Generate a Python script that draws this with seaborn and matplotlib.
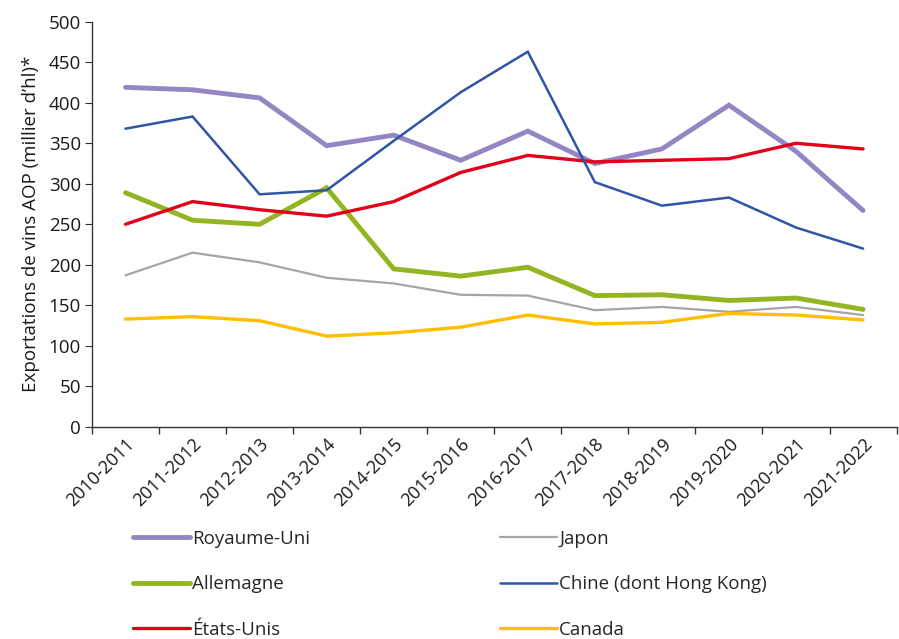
import matplotlib
matplotlib.use("Agg")
import matplotlib.pyplot as plt
import seaborn as sns
import pandas as pd
from matplotlib.ticker import FixedLocator

seasons = ["2010-2011", "2011-2012", "2012-2013", "2013-2014", "2014-2015", "2015-2016",
           "2016-2017", "2017-2018", "2018-2019", "2019-2020", "2020-2021", "2021-2022"]

royaume_uni = [419, 416, 406, 347, 360, 329, 365, 325, 343, 397, 340, 267]
allemagne = [289, 255, 250, 295, 195, 186, 197, 162, 163, 156, 159, 145]
etats_unis = [250, 278, 268, 260, 278, 314, 335, 327, 329, 331, 350, 343]
japon = [187, 215, 203, 184, 177, 163, 162, 144, 148, 142, 148, 138]
chine = [368, 383, 287, 292, 353, 413, 463, 302, 273, 283, 246, 220]
canada = [133, 136, 131, 112, 116, 123, 138, 127, 129, 140, 138, 132]

series = [
    ("Royaume-Uni", royaume_uni, "#9486C2", 3.5),
    ("Allemagne", allemagne, "#93B522", 3.5),
    ("États-Unis", etats_unis, "#E3001B", 2.4),
    ("Japon", japon, "#A5A5A5", 1.6),
    ("Chine (dont Hong Kong)", chine, "#2F56A6", 1.8),
    ("Canada", canada, "#FFBE00", 2.4),
]

sns.set_style("white")
plt.rcParams["font.family"] = ["Open Sans", "DejaVu Sans"]

fig = plt.figure(figsize=(8.99, 6.39), dpi=100)
ax = fig.add_axes([0.1023, 0.332, 0.895, 0.634])

for name, vals, color, lw in series:
    df = pd.DataFrame({"x": list(range(len(seasons))), "y": vals})
    sns.lineplot(data=df, x="x", y="y", ax=ax, color=color, linewidth=lw,
                 label=name, legend=False, solid_joinstyle="miter")

ax.set_xlim(-0.5, len(seasons) - 0.5)
ax.set_ylim(0, 500)
ax.set_yticks(range(0, 501, 50))
ax.set_xticks(range(len(seasons)))
ax.set_xticklabels(seasons, rotation=45, ha="right", rotation_mode="anchor", fontsize=13,
                   color="#1a1a1a")
ax.xaxis.set_minor_locator(FixedLocator([i - 0.5 for i in range(len(seasons) + 1)]))
ax.tick_params(axis="x", which="major", length=0, pad=6)
ax.tick_params(axis="x", which="minor", length=5, direction="out", color="#333333", width=1)
ax.tick_params(axis="y", which="major", length=5, direction="out", color="#333333",
               labelsize=13.5, pad=3)
for lab in ax.get_yticklabels():
    lab.set_color("#1a1a1a")
ax.tick_params(left=True, bottom=True, which="both")
ax.set_xlabel("")
ax.set_ylabel("Exportations de vins AOP (millier d\u2019hl)*", fontsize=13.5, labelpad=6,
              color="#1a1a1a")
for s in ["top", "right"]:
    ax.spines[s].set_visible(False)
for s in ["left", "bottom"]:
    ax.spines[s].set_color("#333333")
    ax.spines[s].set_linewidth(1)

handles, labels = ax.get_legend_handles_labels()
fig.legend(handles, labels, ncol=2, loc="upper left", bbox_to_anchor=(0.148, 0.171),
           frameon=False, fontsize=13.5, handlelength=3.05, handletextpad=0.12,
           columnspacing=10.1, labelspacing=1.47, borderaxespad=0, borderpad=0)

fig.savefig("out.png", dpi=100)
